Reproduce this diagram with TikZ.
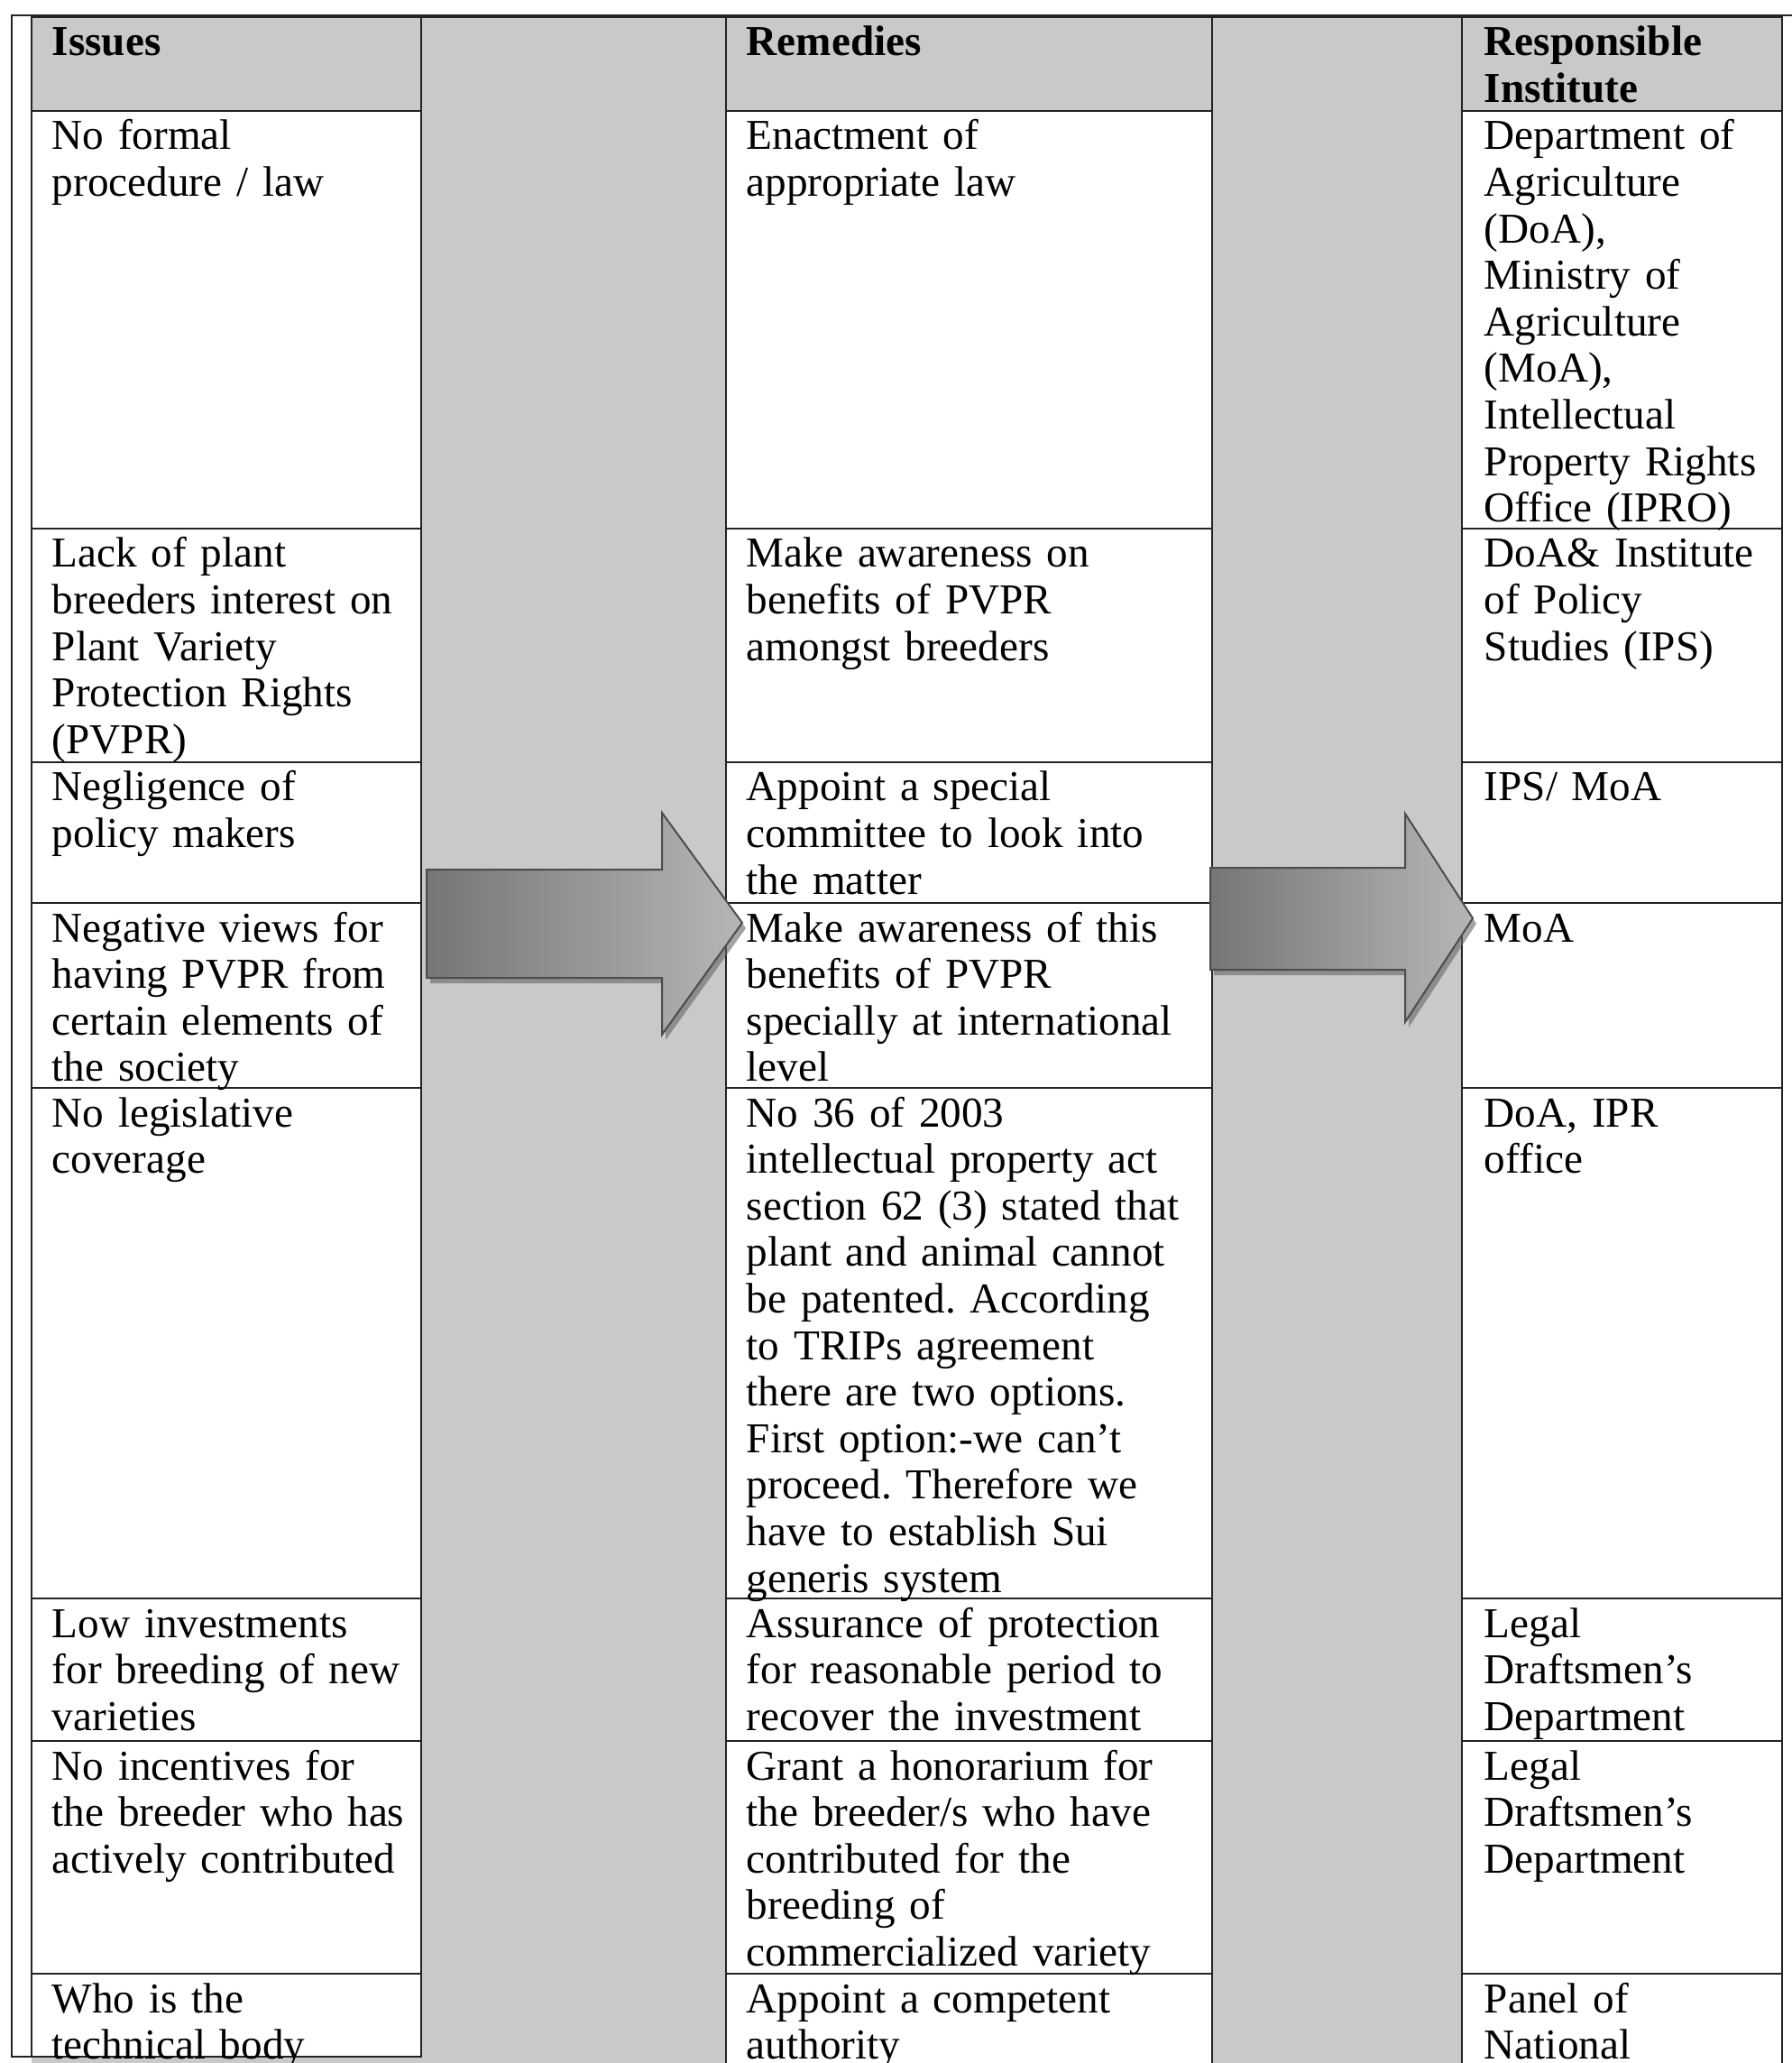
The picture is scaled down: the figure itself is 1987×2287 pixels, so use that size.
\documentclass[tikz,border=0pt]{standalone}
\usepackage{fontspec}
\setmainfont{Liberation Serif}
\frenchspacing
\definecolor{panel}{RGB}{201,201,201}
\definecolor{rule}{RGB}{35,35,35}
\definecolor{arrowdark}{RGB}{118,118,118}
\definecolor{arrowlight}{RGB}{182,182,182}

\begin{document}
\begin{tikzpicture}[x=0.25pt,y=-0.25pt,line join=miter]
	\tikzstyle{cell}=[draw=rule,line width=0.6pt,fill=white];
	\tikzstyle{headcell}=[draw=rule,line width=0.6pt,fill=panel];
	\tikzstyle{txt}=[anchor=base west,inner sep=0pt,text width=140pt,align=left,font=\fontsize{11.8pt}{12.9pt}\selectfont];
	\tikzstyle{hdr}=[txt,font=\fontsize{11.8pt}{12.9pt}\selectfont\bfseries];
	\tikzstyle{blockarrow}=[draw=black!70,line width=0.5pt,left color=arrowdark,right color=arrowlight];
	\tikzstyle{arrowshadow}=[fill=black!60,opacity=0.6];

	\useasboundingbox (0,0) rectangle (1987,2287);
	\fill[white] (0,0) rectangle (1987,2287);
	\fill[panel] (35,19) rectangle (1976,2300);

	% header row
	\draw[headcell] (35,19)   rectangle (467,123);
	\draw[headcell] (805,19)  rectangle (1344,123);
	\draw[headcell] (1621,19) rectangle (1976,123);
	\node[hdr] (hIss) at (57,62)   {Issues};
	\node[hdr] (hRem) at (827,62)  {Remedies};
	\node[hdr] (hRes) at (1645,62) {Responsible\\Institute};

	% issues
	\draw[cell] (35,123)  rectangle (467,586);
	\draw[cell] (35,586)  rectangle (467,845);
	\draw[cell] (35,845)  rectangle (467,1001);
	\draw[cell] (35,1001) rectangle (467,1206);
	\draw[cell] (35,1206) rectangle (467,1772);
	\draw[cell] (35,1772) rectangle (467,1930);
	\draw[cell] (35,1930) rectangle (467,2188);
	\draw[cell] (35,2188) rectangle (467,2280);
	\node[txt] (iss1) at (57,166)  {No formal\\procedure / law};
	\node[txt] (iss2) at (57,629)  {Lack of plant\\breeders interest on\\Plant Variety\\Protection Rights\\(PVPR)};
	\node[txt] (iss3) at (57,888)  {Negligence of\\policy makers};
	\node[txt] (iss4) at (57,1044) {Negative views for\\having PVPR from\\certain elements of\\the society};
	\node[txt] (iss5) at (57,1249) {No legislative\\coverage};
	\node[txt] (iss6) at (57,1815) {Low investments\\for breeding of new\\varieties};
	\node[txt] (iss7) at (57,1973) {No incentives for\\the breeder who has\\actively contributed};
	\node[txt] (iss8) at (57,2231) {Who is the\\technical body};

	% remedies
	\draw[cell] (805,123)  rectangle (1344,586);
	\draw[cell] (805,586)  rectangle (1344,845);
	\draw[cell] (805,845)  rectangle (1344,1001);
	\draw[cell] (805,1001) rectangle (1344,1206);
	\draw[cell] (805,1206) rectangle (1344,1772);
	\draw[cell] (805,1772) rectangle (1344,1930);
	\draw[cell] (805,1930) rectangle (1344,2188);
	\draw[cell] (805,2188) rectangle (1344,2320);
	\node[txt] (rem1) at (827,166)  {Enactment of\\appropriate law};
	\node[txt] (rem2) at (827,629)  {Make awareness on\\benefits of PVPR\\amongst breeders};
	\node[txt] (rem3) at (827,888)  {Appoint a special\\committee to look into\\the matter};
	\node[txt] (rem4) at (827,1044) {Make awareness of this\\benefits of PVPR\\specially at international\\level};
	\node[txt] (rem5) at (827,1249) {No 36 of 2003\\intellectual property act\\section 62 (3) stated that\\plant and animal cannot\\be patented. According\\to TRIPs agreement\\there are two options.\\First option:-we can't\\proceed. Therefore we\\have to establish Sui\\generis system};
	\node[txt] (rem6) at (827,1815) {Assurance of protection\\for reasonable period to\\recover the investment};
	\node[txt] (rem7) at (827,1973) {Grant a honorarium for\\the breeder/s who have\\contributed for the\\breeding of\\commercialized variety};
	\node[txt] (rem8) at (827,2231) {Appoint a competent\\authority};

	% responsible institute
	\draw[cell] (1621,123)  rectangle (1976,586);
	\draw[cell] (1621,586)  rectangle (1976,845);
	\draw[cell] (1621,845)  rectangle (1976,1001);
	\draw[cell] (1621,1001) rectangle (1976,1206);
	\draw[cell] (1621,1206) rectangle (1976,1772);
	\draw[cell] (1621,1772) rectangle (1976,1930);
	\draw[cell] (1621,1930) rectangle (1976,2188);
	\draw[cell] (1621,2188) rectangle (1976,2320);
	\node[txt] (res1) at (1645,166)  {Department of\\Agriculture\\(DoA),\\Ministry of\\Agriculture\\(MoA),\\Intellectual\\Property Rights\\Office (IPRO)};
	\node[txt] (res2) at (1645,629)  {DoA\& Institute\\of Policy\\Studies (IPS)};
	\node[txt] (res3) at (1645,888)  {IPS/ MoA};
	\node[txt] (res4) at (1645,1044) {MoA};
	\node[txt] (res5) at (1645,1249) {DoA, IPR\\office};
	\node[txt] (res6) at (1645,1815) {Legal\\Draftsmen's\\Department};
	\node[txt] (res7) at (1645,1973) {Legal\\Draftsmen's\\Department};
	\node[txt] (res8) at (1645,2231) {Panel of\\National};

	% outer frame
	\draw[rule,line width=0.6pt] (35,2280) -- (13,2280) -- (13,17) -- (1987,17);
	\draw[rule,line width=1pt] (35,18) -- (1976,18);

	% block arrows
	\fill[arrowshadow] (477,970) -- (738,970) -- (738,907) -- (827,1029) -- (738,1153) -- (738,1090) -- (477,1090) -- cycle;
	\draw[blockarrow] (473,964) -- (734,964) -- (734,901) -- (823,1023) -- (734,1147) -- (734,1084) -- (473,1084) -- cycle;
	\fill[arrowshadow] (1346,968) -- (1562,968) -- (1562,908) -- (1637,1024) -- (1562,1139) -- (1562,1081) -- (1346,1081) -- cycle;
	\draw[blockarrow] (1342,962) -- (1558,962) -- (1558,902) -- (1633,1018) -- (1558,1133) -- (1558,1075) -- (1342,1075) -- cycle;
\end{tikzpicture}
\end{document}
